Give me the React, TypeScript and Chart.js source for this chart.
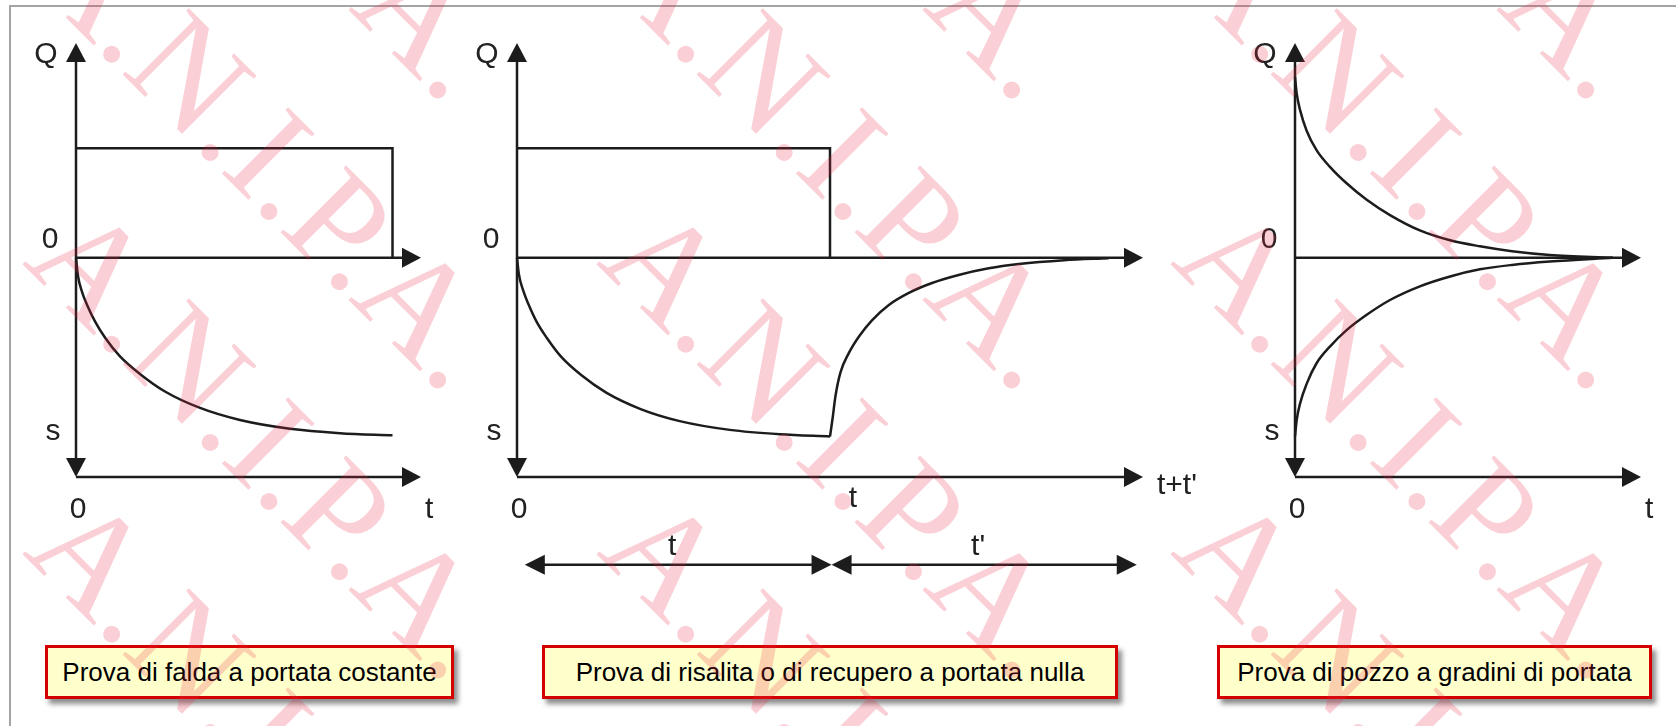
import React, { useEffect, useRef } from 'react';
import { Chart, registerables } from 'chart.js';

Chart.register(...registerables);

// ---------------- data ----------------
// Panel 1 – Prova di falda a portata costante
const p1RateT = [0, 10, 10];
const p1RateQ = [1, 1, 0];
const p1DrawT = [0, 0.06, 0.19, 0.35, 0.6, 0.92, 1.39, 2.02, 2.81, 3.92, 5.18, 6.76, 8.34, 10];
const p1DrawS = [0, -0.16, -0.31, -0.43, -0.58, -0.73, -0.9, -1.06, -1.22, -1.37, -1.48, -1.56, -1.6, -1.62];

// Panel 2 – Prova di risalita o di recupero a portata nulla
const p2RateT = [0, 10, 10];
const p2RateQ = [1, 1, 0];
const p2DrawT = [0, 0.06, 0.2, 0.36, 0.62, 0.95, 1.4, 2.05, 2.85, 3.95, 5.2, 6.8, 8.4, 10];
const p2DrawS = [0, -0.15, -0.3, -0.42, -0.58, -0.73, -0.9, -1.07, -1.23, -1.38, -1.49, -1.57, -1.61, -1.63];
const p2RecT = [10, 10.09, 10.17, 10.33, 10.6, 10.92, 11.34, 11.88, 12.52, 13.26, 14.11, 15.07, 16.03, 17.48, 18.9];
const p2RecS = [-1.63, -1.45, -1.27, -1.05, -0.87, -0.72, -0.57, -0.43, -0.32, -0.23, -0.157, -0.096, -0.057, -0.022, -0.004];
const p2IntervalFrom = [0.25, 10.05];
const p2IntervalTo = [10.05, 19.8];
const p2IntervalLabels = ['t', "t'"];
const p2IntervalLevel = -2.8;

// Panel 3 – Prova di pozzo a gradini di portata
const p3UpT = [0, 0.054, 0.16, 0.37, 0.69, 1.11, 1.64, 2.28, 3.02, 3.97, 4.93, 5.88, 6.9, 8.1, 10.1];
const p3UpQ = [1.65, 1.5, 1.35, 1.16, 0.98, 0.83, 0.68, 0.53, 0.39, 0.25, 0.16, 0.105, 0.06, 0.026, 0];
const p3LowT = [0, 0.054, 0.16, 0.37, 0.69, 1.11, 1.64, 2.28, 3.02, 3.97, 4.93, 5.88, 6.9, 8.1, 10.1];
const p3LowS = [-1.63, -1.48, -1.33, -1.15, -0.96, -0.81, -0.66, -0.52, -0.385, -0.26, -0.17, -0.105, -0.065, -0.034, 0];

// texts
const axisNames = ['Q', 's'];
const originLabel = '0';
const timeLabels = ['t', "t+t'", 't'];
const stopLabel = 't';
const captions = [
  'Prova di falda a portata costante',
  'Prova di risalita o di recupero a portata nulla',
  'Prova di pozzo a gradini di portata',
];
const watermarkText = 'A.N.I.P.A.';

// ---------------- drawing helpers ----------------
const INK = '#1c1c1c';
const LABEL_FONT = '30px "Liberation Sans", Arial, sans-serif';

function arrowHead(ctx: CanvasRenderingContext2D, tx: number, ty: number, dx: number, dy: number, len: number, hw: number) {
  const bx = tx - dx * len;
  const by = ty - dy * len;
  const px = -dy;
  const py = dx;
  ctx.beginPath();
  ctx.moveTo(tx, ty);
  ctx.lineTo(bx + px * hw, by + py * hw);
  ctx.lineTo(bx - px * hw, by - py * hw);
  ctx.closePath();
  ctx.fill();
}

const diagramPlugin = {
  id: 'diagram',
  beforeDatasetsDraw(chart: any, _args: any, opts: any) {
    const ctx: CanvasRenderingContext2D = chart.ctx;
    const xs = chart.scales.x;
    const ys = chart.scales.y;
    const x0 = xs.getPixelForValue(0);
    const xEnd = xs.getPixelForValue(xs.max);
    const yTop = ys.getPixelForValue(ys.max);
    const yBot = ys.getPixelForValue(ys.min);
    const yZero = ys.getPixelForValue(0);
    const L = 19;
    const H = 10;
    ctx.save();
    ctx.strokeStyle = INK;
    ctx.fillStyle = INK;
    ctx.lineWidth = 2.5;
    ctx.beginPath();
    ctx.moveTo(x0, yBot - L / 2);
    ctx.lineTo(x0, yTop + L / 2);
    ctx.moveTo(x0, yZero);
    ctx.lineTo(xEnd - L / 2, yZero);
    ctx.moveTo(x0, yBot);
    ctx.lineTo(xEnd - L / 2, yBot);
    ctx.stroke();
    arrowHead(ctx, x0, yTop, 0, -1, L, H);
    arrowHead(ctx, x0, yBot, 0, 1, L, H);
    arrowHead(ctx, xEnd, yZero, 1, 0, L, H);
    arrowHead(ctx, xEnd, yBot, 1, 0, L, H);

    ctx.font = LABEL_FONT;
    ctx.textBaseline = 'middle';

    if (opts.intervals) {
      const { from, to, labels, level } = opts.intervals;
      const yy = ys.getPixelForValue(level);
      const AL = 20;
      const AH = 10;
      for (let k = 0; k < from.length; k++) {
        const a = xs.getPixelForValue(from[k]);
        const b = xs.getPixelForValue(to[k]);
        ctx.beginPath();
        ctx.moveTo(a + AL / 2, yy);
        ctx.lineTo(b - AL / 2, yy);
        ctx.stroke();
        arrowHead(ctx, a, yy, -1, 0, AL, AH);
        arrowHead(ctx, b, yy, 1, 0, AL, AH);
        ctx.fillStyle = '#222';
        ctx.textAlign = 'center';
        ctx.fillText(labels[k], (a + b) / 2 - 6, yy - 18);
        ctx.fillStyle = INK;
      }
    }

    ctx.fillStyle = '#222';
    ctx.textAlign = 'center';
    ctx.fillText(axisNames[0], x0 - 30, yTop + 12);
    ctx.fillText(originLabel, x0 - 26, yZero - 18);
    ctx.fillText(axisNames[1], x0 - 23, yBot - 45);
    ctx.fillText(originLabel, x0 + 2, yBot + 33);
    ctx.textAlign = 'left';
    ctx.fillText(opts.timeLabel, xEnd + opts.timeDx, yBot + opts.timeDy);
    if (opts.marker) {
      ctx.textAlign = 'center';
      ctx.fillText(opts.marker.text, xs.getPixelForValue(opts.marker.at) + 23, yBot + 22);
    }
    ctx.restore();
  },
};

function toPoints(xs: number[], ys: number[]) {
  return xs.map((x, i) => ({ x, y: ys[i] }));
}

function lineSet(xs: number[], ys: number[], smooth: boolean) {
  return {
    data: toPoints(xs, ys),
    showLine: true,
    borderColor: INK,
    borderWidth: 2.5,
    pointRadius: 0,
    fill: false,
    clip: false,
    tension: 0,
    cubicInterpolationMode: smooth ? 'monotone' : 'default',
  };
}

type PanelSpec = {
  left: number;
  top: number;
  w: number;
  h: number;
  pad: { left: number; right: number; top: number; bottom: number };
  xMax: number;
  datasets: any[];
  plugin: any;
};

const panels: PanelSpec[] = [
  {
    left: 10, top: 10, w: 455, h: 540,
    pad: { left: 66, top: 33, right: 44, bottom: 73 },
    xMax: 10.9,
    datasets: [lineSet(p1RateT, p1RateQ, false), lineSet(p1DrawT, p1DrawS, true)],
    plugin: { timeLabel: timeLabels[0], timeDx: 4, timeDy: 33 },
  },
  {
    left: 470, top: 10, w: 750, h: 580,
    pad: { left: 47, top: 33, right: 77, bottom: 113 },
    xMax: 20,
    datasets: [
      lineSet(p2RateT, p2RateQ, false),
      lineSet(p2DrawT, p2DrawS, true),
      lineSet(p2RecT, p2RecS, true),
    ],
    plugin: {
      timeLabel: timeLabels[1], timeDx: 14, timeDy: 9,
      marker: { at: 10, text: stopLabel },
      intervals: { from: p2IntervalFrom, to: p2IntervalTo, labels: p2IntervalLabels, level: p2IntervalLevel },
    },
  },
  {
    left: 1225, top: 10, w: 451, h: 540,
    pad: { left: 70, top: 33, right: 35, bottom: 73 },
    xMax: 11,
    datasets: [lineSet(p3UpT, p3UpQ, true), lineSet(p3LowT, p3LowS, true)],
    plugin: { timeLabel: timeLabels[2], timeDx: 4, timeDy: 33 },
  },
];

function Panel({ spec }: { spec: PanelSpec }) {
  const ref = useRef<HTMLCanvasElement>(null);
  useEffect(() => {
    if (!ref.current) return;
    const chart = new Chart(ref.current, {
      type: 'scatter',
      data: { datasets: spec.datasets },
      options: {
        responsive: false,
        animation: false,
        events: [],
        layout: { padding: spec.pad },
        plugins: {
          legend: { display: false },
          tooltip: { enabled: false },
          // @ts-ignore
          diagram: spec.plugin,
        },
        scales: {
          x: { type: 'linear', min: 0, max: spec.xMax, display: false },
          y: { type: 'linear', min: -2, max: 1.96, display: false },
        },
      },
      plugins: [diagramPlugin],
    } as any);
    return () => chart.destroy();
  }, [spec]);
  return (
    <canvas
      ref={ref}
      width={spec.w}
      height={spec.h}
      style={{ position: 'absolute', left: spec.left, top: spec.top, width: spec.w, height: spec.h }}
    />
  );
}

const boxGeom = [
  { left: 45, width: 409 },
  { left: 542, width: 576 },
  { left: 1217, width: 435 },
];

export default function App() {
  useEffect(() => {
    document.body.style.margin = '0';
    document.body.style.overflow = 'hidden';
  }, []);

  const wm: React.ReactNode[] = [];
  for (let i = -1; i <= 3; i++) {
    for (let j = -2; j <= 3; j++) {
      const bx = 21 + 574 * i;
      const by = -26 + 290 * j;
      wm.push(
        <span
          key={`${i}_${j}`}
          style={{
            position: 'absolute',
            left: bx,
            top: by - 119.8,
            fontFamily: '"Liberation Serif", "Times New Roman", serif',
            fontSize: 143,
            lineHeight: '143px',
            whiteSpace: 'nowrap',
            color: 'rgba(232,40,70,0.22)',
            transformOrigin: '0px 119.8px',
            transform: 'rotate(45deg)',
          }}
        >
          {watermarkText}
        </span>
      );
    }
  }

  return (
    <div
      style={{
        position: 'absolute',
        left: 0,
        top: 0,
        width: 1676,
        height: 726,
        overflow: 'hidden',
        background: '#ffffff',
      }}
    >
      <div
        style={{
          position: 'absolute',
          left: 9,
          top: 5,
          width: 1667,
          height: 721,
          borderTop: '2px solid #a4a4a4',
          borderLeft: '2px solid #a4a4a4',
          boxSizing: 'border-box',
        }}
      />
      {panels.map((p, k) => (
        <Panel key={k} spec={p} />
      ))}
      {captions.map((c, k) => (
        <div
          key={k}
          style={{
            position: 'absolute',
            left: boxGeom[k].left,
            top: 645,
            width: boxGeom[k].width,
            height: 54,
            boxSizing: 'border-box',
            background: '#ffffcc',
            border: '3px solid #d40000',
            boxShadow: '4px 5px 5px rgba(0,0,0,0.45)',
            display: 'flex',
            alignItems: 'center',
            justifyContent: 'center',
            fontFamily: '"Liberation Sans", Arial, sans-serif',
            fontSize: 26,
            color: '#000',
            whiteSpace: 'nowrap',
          }}
        >
          {c}
        </div>
      ))}
      <div style={{ position: 'absolute', left: 0, top: 0, width: 1676, height: 726, pointerEvents: 'none', overflow: 'hidden' }}>
        {wm}
      </div>
    </div>
  );
}
